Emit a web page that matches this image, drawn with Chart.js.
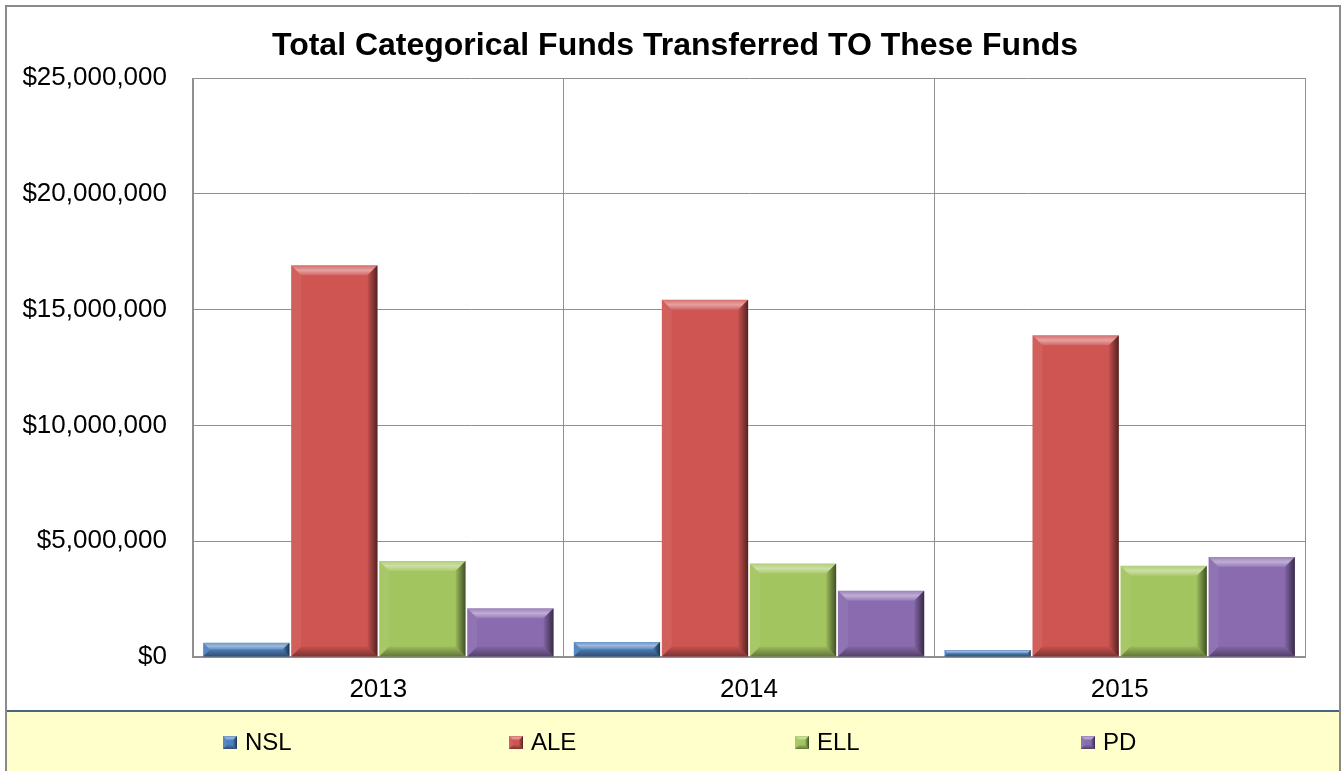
<!DOCTYPE html>
<html>
<head>
<meta charset="utf-8">
<script src="https://cdn.jsdelivr.net/npm/chart.js@4.4.0/dist/chart.umd.min.js"></script>
<style>
    html, body { margin: 0; padding: 0; background: #fff; }
</style>
</head>
<body>
<canvas id="fundsChart" width="1343" height="771"></canvas>
<script>
// data
var years = ['2013', '2014', '2015'];
var nslValues = [620000, 650000, 300000];
var aleValues = [16910000, 15430000, 13890000];
var ellValues = [4150000, 4040000, 3940000];
var pdValues = [2100000, 2860000, 4320000];
var seriesNames = ['NSL', 'ALE', 'ELL', 'PD'];
var seriesColors = ['#4F81BD', '#CF5552', '#A3C55F', '#8A6BAF'];
var chartTitle = 'Total Categorical Funds Transferred TO These Funds';
var yMax = 25000000;
var yStep = 5000000;

Chart.defaults.font.family = "'Liberation Sans', Arial, sans-serif";
Chart.defaults.color = '#000';

function poly(c, pts, fill) {
    c.beginPath();
    c.moveTo(pts[0][0], pts[0][1]);
    for (var i = 1; i < pts.length; i++) c.lineTo(pts[i][0], pts[i][1]);
    c.closePath();
    c.fillStyle = fill;
    c.fill();
}

// fake the excel "bevel" look on top of a plain rect
function bevel(c, l, t, r, b, s) {
    s = Math.min(s, (r - l) / 2, (b - t) / 2);
    var g = c.createLinearGradient(0, t, 0, t + s);
    g.addColorStop(0, 'rgba(255,255,255,0.15)');
    g.addColorStop(0.5, 'rgba(255,255,255,0.45)');
    g.addColorStop(1, 'rgba(255,255,255,0.1)');
    poly(c, [[l, t], [r, t], [r - s, t + s], [l + s, t + s]], g);
    poly(c, [[l, t], [l + s, t + s], [l + s, b - s], [l, b]], 'rgba(255,255,255,0.06)');
    g = c.createLinearGradient(r - s, 0, r, 0);
    g.addColorStop(0, 'rgba(0,0,0,0.05)');
    g.addColorStop(1, 'rgba(0,0,0,0.6)');
    poly(c, [[r, t], [r, b], [r - s, b - s], [r - s, t + s]], g);
    g = c.createLinearGradient(0, b - s, 0, b);
    g.addColorStop(0, 'rgba(0,0,0,0.05)');
    g.addColorStop(1, 'rgba(0,0,0,0.4)');
    poly(c, [[l, b], [l + s, b - s], [r - s, b - s], [r, b]], g);
}

var framePlugin = {
    id: 'frame',
    beforeDraw: function (chart) {
        var c = chart.ctx;
        c.save();
        c.fillStyle = '#fff';
        c.fillRect(0, 0, chart.width, chart.height);
        c.restore();
    },
    afterDatasetsDraw: function (chart) {
        var c = chart.ctx;
        c.save();
        chart.data.datasets.forEach(function (ds, i) {
            chart.getDatasetMeta(i).data.forEach(function (bar) {
                var half = bar.width / 2;
                bevel(c, bar.x - half, bar.y, bar.x + half, bar.base, 10);
            });
        });
        c.restore();
    },
    afterDraw: function (chart) {
        var c = chart.ctx;
        c.save();
        // title (drawn by hand so it can sit centred on the whole frame)
        c.font = "bold 32px 'Liberation Sans', Arial, sans-serif";
        c.textAlign = 'center';
        c.textBaseline = 'middle';
        c.fillStyle = '#000';
        c.fillText(chartTitle, 675, 46);
        // legend strip
        c.fillStyle = '#FFFFCC';
        c.fillRect(7, 711, 1333, 60);
        c.strokeStyle = '#4a6582';
        c.lineWidth = 2;
        c.beginPath();
        c.moveTo(7, 711);
        c.lineTo(1340, 711);
        c.stroke();
        c.font = "24px 'Liberation Sans', Arial, sans-serif";
        c.textAlign = 'left';
        seriesNames.forEach(function (name, i) {
            var bx = 223 + i * 286;
            c.fillStyle = seriesColors[i];
            c.fillRect(bx, 736, 14, 13);
            bevel(c, bx, 736, bx + 14, 749, 4);
            c.fillStyle = '#000';
            c.fillText(name, bx + 22, 743);
        });
        // outer border
        c.strokeStyle = '#8a8a8a';
        c.lineWidth = 2;
        c.strokeRect(6, 6, 1334, 770);
        c.restore();
    }
};

var ctx = document.getElementById('fundsChart').getContext('2d');
var fundsChart = new Chart(ctx, {
    type: 'bar',
    data: {
        labels: years,
        datasets: [
            { label: seriesNames[0], data: nslValues, backgroundColor: seriesColors[0] },
            { label: seriesNames[1], data: aleValues, backgroundColor: seriesColors[1] },
            { label: seriesNames[2], data: ellValues, backgroundColor: seriesColors[2] },
            { label: seriesNames[3], data: pdValues, backgroundColor: seriesColors[3] }
        ]
    },
    options: {
        responsive: false,
        animation: false,
        categoryPercentage: 0.95,
        barPercentage: 0.98,
        layout: {
            padding: { left: 0, right: 38, top: 78, bottom: 60 }
        },
        plugins: {
            legend: { display: false },
            tooltip: { enabled: false },
            title: { display: false }
        },
        scales: {
            x: {
                grid: {
                    color: '#8f8f8f',
                    drawTicks: false,
                    offset: true
                },
                border: { color: '#8f8f8f', width: 2 },
                ticks: {
                    font: { size: 26 },
                    padding: 17
                },
                afterFit: function (scale) { scale.height = 54; }
            },
            y: {
                min: 0,
                max: yMax,
                grid: {
                    color: '#8f8f8f',
                    drawTicks: false
                },
                border: { color: '#8f8f8f', width: 1 },
                ticks: {
                    stepSize: yStep,
                    font: { size: 26 },
                    padding: 26,
                    callback: function (v) {
                        return '$' + Number(v).toLocaleString('en-US');
                    }
                },
                afterFit: function (scale) { scale.width = 193; }
            }
        }
    },
    plugins: [framePlugin]
});
</script>
</body>
</html>
